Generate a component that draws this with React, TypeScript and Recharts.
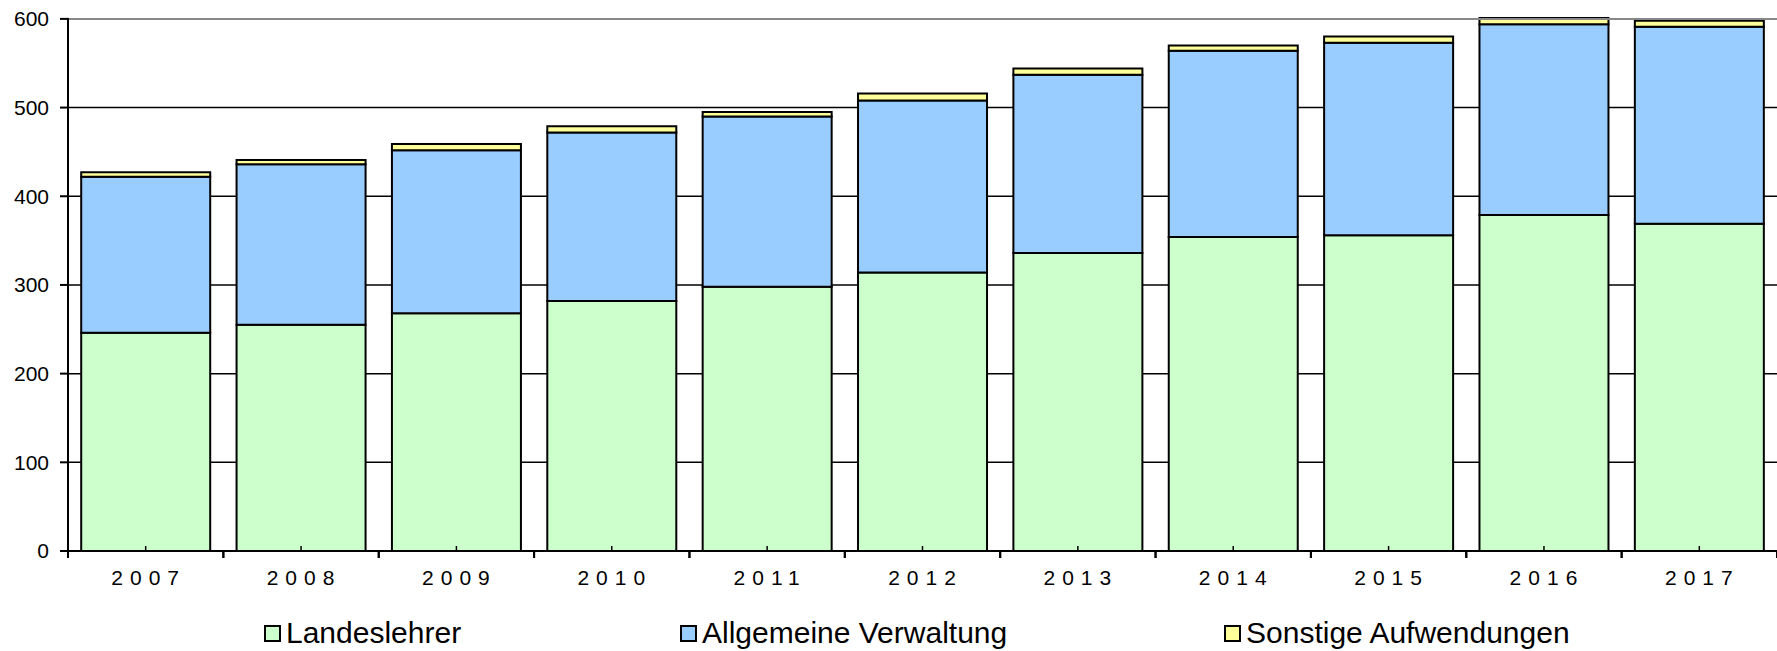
import React from "react";
import {
  BarChart,
  Bar,
  XAxis,
  YAxis,
  CartesianGrid,
  ReferenceLine,
} from "recharts";

const years = ["2007", "2008", "2009", "2010", "2011", "2012", "2013", "2014", "2015", "2016", "2017"];
const landeslehrer = [246, 255, 268, 282, 298, 314, 336, 354, 356, 379, 369];
const verwaltung = [176, 181, 184, 190, 192, 194, 201, 210, 217, 215, 222];
const sonstige = [5, 5, 7, 7, 5, 8, 7, 6, 7, 7, 7];
const yTicks = [0, 100, 200, 300, 400, 500, 600];

const series = [
  { key: "landeslehrer", name: "Landeslehrer", color: "#CCFFCC" },
  { key: "verwaltung", name: "Allgemeine Verwaltung", color: "#99CCFF" },
  { key: "sonstige", name: "Sonstige Aufwendungen", color: "#FFFF99" },
];

const data = years.map((year, i) => ({
  year,
  landeslehrer: landeslehrer[i],
  verwaltung: verwaltung[i],
  sonstige: sonstige[i],
}));

const W = 1777;
const H = 651;
const LEFT = 68;
const FONT = "'Liberation Sans', Arial, sans-serif";
const BAND = (W - LEFT) / years.length;

const XTick = ({ x, y, payload }: { x?: number; y?: number; payload?: { value: string } }) => {
  if (x == null || y == null || !payload) return null;
  return (
    <g>
      <line x1={x} x2={x} y1={y} y2={y - 5} stroke="#000" strokeWidth={1.5} />
      <line x1={x - BAND / 2} x2={x - BAND / 2} y1={y} y2={y + 7} stroke="#000" strokeWidth={2} />
      <line x1={x + BAND / 2} x2={x + BAND / 2} y1={y} y2={y + 7} stroke="#000" strokeWidth={2} />
      <text
        x={x + 3}
        y={y + 34}
        textAnchor="middle"
        fontSize={21}
        fontFamily={FONT}
        letterSpacing={7}
        fill="#000"
      >
        {payload.value}
      </text>
    </g>
  );
};

const legendPos = [264, 680, 1224];

export default function App() {
  return (
    <div style={{ position: "absolute", left: 0, top: 0, width: W, height: H, background: "#fff" }}>
      <BarChart
        width={W}
        height={H}
        data={data}
        margin={{ top: 18, right: 0, left: 8, bottom: 0 }}
        barCategoryGap="8.5%"
      >
        <CartesianGrid
          vertical={false}
          horizontalValues={[100, 200, 300, 400, 500]}
          stroke="#000"
          strokeWidth={1.5}
        />
        <ReferenceLine y={600} stroke="#888" strokeWidth={2} />
        <XAxis
          dataKey="year"
          height={100}
          tickSize={0}
          tickMargin={0}
          tickLine={false}
          axisLine={{ stroke: "#000", strokeWidth: 2 }}
          tick={<XTick />}
          interval={0}
        />
        <YAxis
          width={60}
          domain={[0, 600]}
          ticks={yTicks}
          tickSize={8}
          tickMargin={11}
          axisLine={{ stroke: "#000", strokeWidth: 2 }}
          tickLine={{ stroke: "#000", strokeWidth: 2 }}
          tick={{ fontSize: 21, fontFamily: FONT, fill: "#000" }}
        />
        {series.map((s) => (
          <Bar
            key={s.key}
            dataKey={s.key}
            name={s.name}
            stackId="a"
            fill={s.color}
            stroke="#000"
            strokeWidth={2}
            isAnimationActive={false}
          />
        ))}
      </BarChart>
      {series.map((s, i) => (
        <div
          key={s.key}
          style={{
            position: "absolute",
            left: legendPos[i],
            top: 616,
            display: "flex",
            alignItems: "center",
            fontFamily: FONT,
            fontSize: 30,
            color: "#000",
            whiteSpace: "nowrap",
          }}
        >
          <span
            style={{
              display: "inline-block",
              width: 13,
              height: 13,
              background: s.color,
              border: "2px solid #000",
              marginRight: 5,
            }}
          />
          {s.name}
        </div>
      ))}
    </div>
  );
}
